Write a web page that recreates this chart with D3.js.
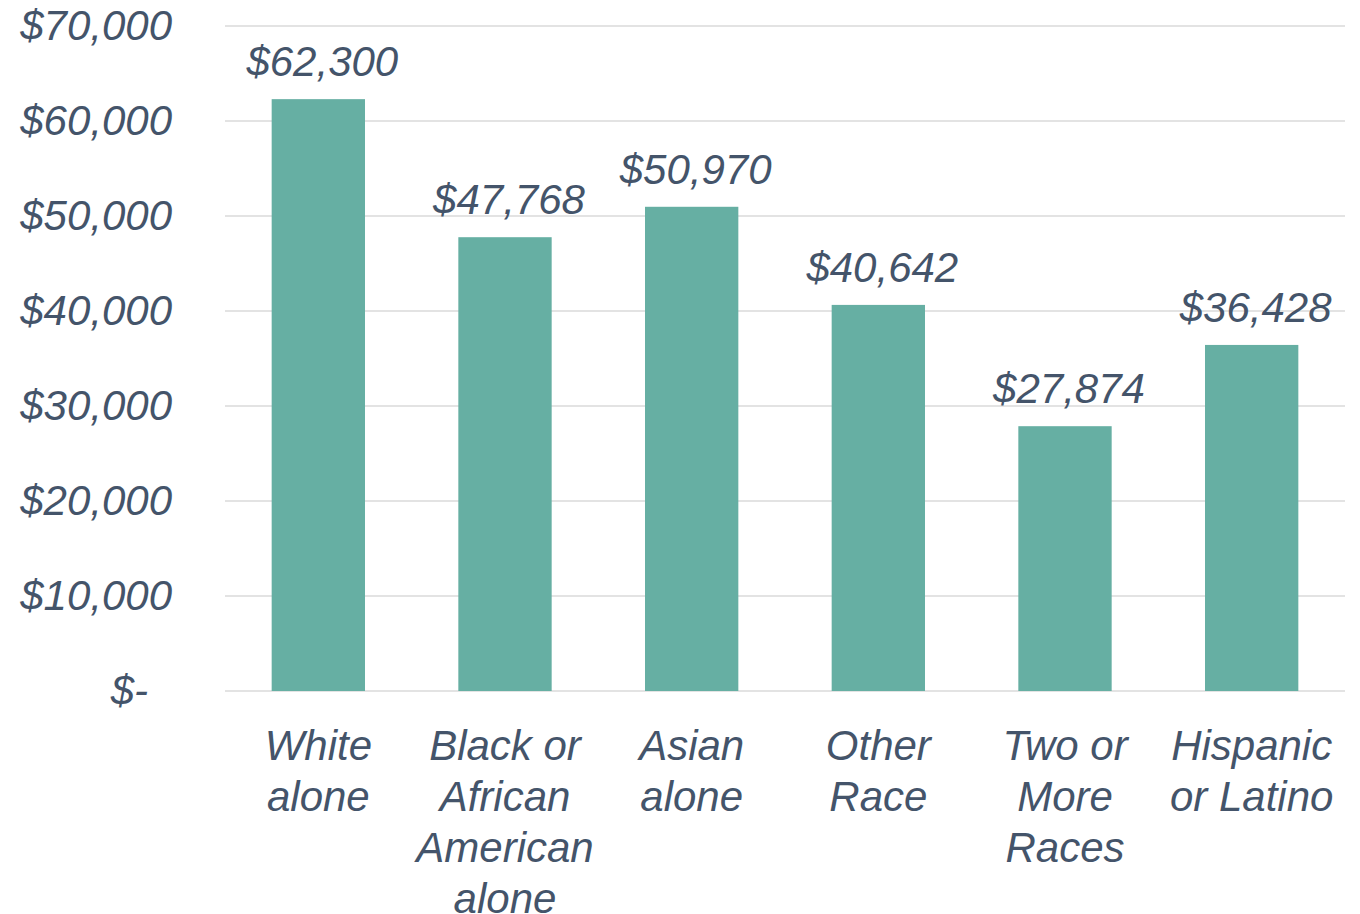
<!DOCTYPE html>
<html>
  <head>
    <meta charset="utf-8">
    <title>Median income by race</title>
    <style>
      html, body { margin: 0; padding: 0; background: #fff; }
      svg text { font-family: "Liberation Sans", Arial, Helvetica, sans-serif; font-style: italic; fill: #44546a; }
    </style>
  </head>
  <body>
    <script src="https://cdn.jsdelivr.net/npm/d3@7"></script>
    <div id="chart"></div>
    <script>
      // values
      var categories = ['White alone', 'Black or African American alone', 'Asian alone',
                        'Other Race', 'Two or More Races', 'Hispanic or Latino']
      var categoryLines = [['White', 'alone'], ['Black or', 'African', 'American', 'alone'],
                           ['Asian', 'alone'], ['Other', 'Race'], ['Two or', 'More', 'Races'],
                           ['Hispanic', 'or Latino']]
      var incomes = [62300, 47768, 50970, 40642, 27874, 36428]
      var yTicks = [0, 10000, 20000, 30000, 40000, 50000, 60000, 70000]

      // plot area (note: "top" is reserved on window, so use plot* names)
      var width = 1360, height = 914
      var plotLeft = 225, plotRight = 1345, plotTop = 26, plotBottom = 691
      var fontSize = '42px'

      var svg = d3.select('#chart').append('svg')
        .attr('width', width)
        .attr('height', height)

      var x = d3.scaleBand()
        .domain(categories)
        .range([plotLeft, plotRight])
        .paddingInner(0.5)
        .paddingOuter(0.25)

      var y = d3.scaleLinear()
        .domain([0, 70000])
        .range([plotBottom, plotTop])

      var money = d3.format(',')

      // gridlines
      svg.append('g')
        .selectAll('line')
        .data(yTicks)
        .enter()
        .append('line')
        .attr('x1', plotLeft)
        .attr('x2', plotRight)
        .attr('y1', function(d) { return y(d) })
        .attr('y2', function(d) { return y(d) })
        .attr('stroke', '#e3e3e3')
        .attr('stroke-width', 2)

      // y axis labels
      var yAxis = svg.append('g')
        .attr('transform', 'translate(172,0)')
        .call(d3.axisLeft(y).tickValues(yTicks).tickSize(0).tickPadding(0)
          .tickFormat(function(d) { return d === 0 ? '$-' : '$' + money(d) }))
      yAxis.select('.domain').remove()
      yAxis.attr('font-family', null).attr('font-size', null)
      yAxis.selectAll('text')
        .style('font-size', fontSize)
        .attr('fill', null)
        .attr('dy', '0.32em')
        .attr('dx', function(d) { return d === 0 ? -24 : 0 })

      // bars
      svg.append('g')
        .selectAll('rect')
        .data(incomes)
        .enter()
        .append('rect')
        .attr('x', function(d, i) { return x(categories[i]) })
        .attr('y', function(d) { return y(d) })
        .attr('width', x.bandwidth())
        .attr('height', function(d) { return y(0) - y(d) })
        .attr('fill', '#66afa3')

      // value labels
      svg.append('g')
        .selectAll('text')
        .data(incomes)
        .enter()
        .append('text')
        .attr('x', function(d, i) { return x(categories[i]) + x.bandwidth() / 2 + 4 })
        .attr('y', function(d) { return y(d) - 23 })
        .attr('text-anchor', 'middle')
        .style('font-size', fontSize)
        .text(function(d) { return '$' + money(d) })

      // category labels
      var cat = svg.append('g')
        .selectAll('text')
        .data(categories)
        .enter()
        .append('text')
        .attr('text-anchor', 'middle')
        .style('font-size', fontSize)
        .attr('x', function(d) { return x(d) + x.bandwidth() / 2 })
        .attr('y', plotBottom + 69)

      cat.selectAll('tspan')
        .data(function(d, i) { return categoryLines[i] })
        .enter()
        .append('tspan')
        .attr('x', function() { return this.parentNode.getAttribute('x') })
        .attr('dy', function(d, i) { return i === 0 ? 0 : 51 })
        .text(function(d) { return d })
    </script>
  </body>
</html>
